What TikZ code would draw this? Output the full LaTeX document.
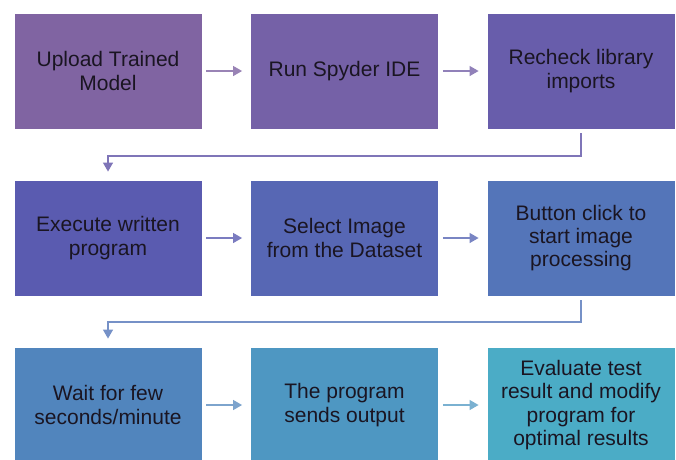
\documentclass[tikz,border=0pt]{standalone}
\usepackage{fontspec}
\setmainfont{Liberation Sans}
\usetikzlibrary{arrows.meta}

% Step colours: a hue sweep from purple to aqua
\definecolor{c1}{HTML}{8064A2}
\definecolor{c2}{HTML}{7561A7}
\definecolor{c3}{HTML}{685DAB}
\definecolor{c4}{HTML}{5A5BB0}
\definecolor{c5}{HTML}{5767B4}
\definecolor{c6}{HTML}{5475B9}
\definecolor{c7}{HTML}{5185BD}
\definecolor{c8}{HTML}{4E97C2}
\definecolor{c9}{HTML}{4BACC6}
\definecolor{txt}{HTML}{1A1522}

\tikzset{
  stepbox/.style={draw=white, line width=0.6pt, inner sep=0pt,
    minimum width=188pt, minimum height=116pt, align=center,
    text=txt, font=\fontsize{21}{23.3}\selectfont},
  link/.style={line width=2.4pt,
    -{Triangle[length=9pt,width=9.5pt]}},
}

\begin{document}
\begin{tikzpicture}[x=1pt, y=-1pt]
  \useasboundingbox (0,0) rectangle (676,459);
  \begin{scope}
  \clip (0,0) rectangle (676,459);

  % row 1
  \node[stepbox, fill=c1] (n1) at (108,71)   {Upload Trained\\Model};
  \node[stepbox, fill=c2] (n2) at (344.5,71) {Run Spyder IDE};
  \node[stepbox, fill=c3] (n3) at (581,71)   {Recheck library\\imports};
  % row 2
  \node[stepbox, fill=c4] (n4) at (108,238)   {Execute written\\program};
  \node[stepbox, fill=c5] (n5) at (344.5,238) {Select Image\\from the Dataset};
  \node[stepbox, fill=c6] (n6) at (581,238)   {Button click to\\start image\\processing};
  % row 3
  \node[stepbox, fill=c7] (n7) at (108,405)   {Wait for few\\seconds/minute};
  \node[stepbox, fill=c8] (n8) at (344.5,405) {The program\\sends output};
  \node[stepbox, fill=c9] (n9) at (581,405)   {Evaluate test\\result and modify\\program for\\optimal results};

  % turning points of the bent connectors
  \coordinate (m1) at (581,156);
  \coordinate (m2) at (581,322);

  % straight connectors
  \draw[link, draw=c1!80!white] ([xshift=4pt]n1.east) -- ([xshift=-8pt]n2.west);
  \draw[link, draw=c2!80!white] ([xshift=4pt]n2.east) -- ([xshift=-8pt]n3.west);
  \draw[link, draw=c4!80!white] ([xshift=4pt]n4.east) -- ([xshift=-8pt]n5.west);
  \draw[link, draw=c5!80!white] ([xshift=4pt]n5.east) -- ([xshift=-8pt]n6.west);
  \draw[link, draw=c7!75!white] ([xshift=4pt]n7.east) -- ([xshift=-8pt]n8.west);
  \draw[link, draw=c8!75!white] ([xshift=4pt]n8.east) -- ([xshift=-8pt]n9.west);

  % bent connectors between rows
  \draw[link, draw=c3!85!white] ([yshift=-4pt]n3.south) -- (m1) -| ([yshift=8pt]n4.north);
  \draw[link, draw=c6!80!white] ([yshift=-4pt]n6.south) -- (m2) -| ([yshift=8pt]n7.north);
  \end{scope}
\end{tikzpicture}
\end{document}
